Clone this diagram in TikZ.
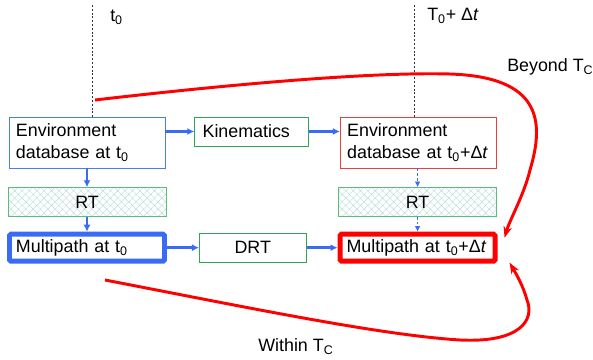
\documentclass[tikz,border=0pt]{standalone}
\usepackage{fontspec}
\setmainfont{Liberation Sans}
\usetikzlibrary{arrows.meta}
\usetikzlibrary{calc}
\usetikzlibrary{positioning}
\usetikzlibrary{patterns.meta}

\definecolor{envblue}{HTML}{4A7CF5}
\definecolor{flowblue}{HTML}{3A6BF5}
\definecolor{kingreen}{HTML}{2FA55A}
\definecolor{rtgreen}{HTML}{5DBB7F}
\definecolor{hatchcol}{HTML}{B4DDD8}
\definecolor{envred}{HTML}{E8403A}
\definecolor{loopred}{HTML}{FF0000}

\tikzset{
	box/.style={draw, rectangle, inner ysep=0pt},
	envbox/.style={box, text width=3.55cm, inner xsep=0.175cm, align=left, minimum height=1.275cm},
	procbox/.style={box, draw=kingreen, minimum height=0.725cm},
	rtbox/.style={box, draw=rtgreen, minimum width=3.95cm, minimum height=0.725cm,
		pattern={Hatch[angle=45,distance=3.7pt,line width=0.3pt]}, pattern color=hatchcol},
	mpbox/.style={box, line width=3.5pt, rounded corners=1pt, text width=3.55cm, inner xsep=0.1625cm, align=left, minimum height=0.675cm},
	flow/.style={draw=flowblue, line width=1.7pt, -{Latex[length=5pt,width=5pt]}},
	thinflow/.style={draw=flowblue, line width=0.6pt, dash pattern=on 2pt off 1.5pt, -{Latex[length=4pt,width=4pt]}},
	timeline/.style={draw=black!80, line width=0.5pt, dash pattern=on 1.5pt off 1.2pt},
	redloop/.style={draw=loopred, line width=2.1pt, -{Stealth[length=8pt,width=6pt]}},
	lbl/.style={anchor=west, inner sep=0pt}
}

\begin{document}
\begin{tikzpicture}[x=0.025cm, y=0.025cm, font=\fontsize{12.7}{15.6}\selectfont]
		\useasboundingbox (0,0) rectangle (593,-360);
		% boxes
		\node[envbox, draw=envblue] (envA) at (87,-142.5) {Environment\\database at t\textsubscript{0}};
		\node[procbox, text width=2.45cm, inner xsep=0.2cm, align=left, right=0.725cm of envA.north east, anchor=north west] (kin) {Kinematics};
		\node[envbox, draw=envred, right=0.775cm of kin.north east, anchor=north west] (envB) {Environment\\database at t\textsubscript{0}+Δ\textit{t}};
		\node[rtbox, below=0.475cm of envA] (rtA) {RT};
		\node[mpbox, draw=flowblue, below=0.375cm of rtA] (mpA) {Multipath at t\textsubscript{0}};
		\node[procbox, minimum width=2.675cm, right=0.8cm of mpA] (drt) {DRT};
		\node[mpbox, draw=loopred, right=0.775cm of drt] (mpB) {Multipath at t\textsubscript{0}+Δ\textit{t}};
		\node[rtbox, above=0.375cm of mpB] (rtB) {RT};
		% time marks
		\coordinate (tA) at (92,-5);
		\coordinate (tB) at (414,-5);
		\draw[timeline] (tA) -- (tA |- envA.north);
		\draw[timeline] (tB) -- (tB |- envB.north);
		\node[lbl] (lblA) at (110,-17) {t\textsubscript{0}};
		\node[lbl] (lblB) at (427,-16) {T\textsubscript{0}+ Δ\textit{t}};
		\node[lbl] (beyond) at (507,-67) {Beyond T\textsubscript{C}};
		\node[lbl] (within) at (258,-347) {Within T\textsubscript{C}};
		% flow
		\draw[flow] (kin.west -| envA.east) -- (kin.west);
		\draw[flow] (kin.east) -- (kin.east -| envB.west);
		\draw[flow] (envA) -- (rtA);
		\draw[flow] (rtA) -- (mpA);
		\draw[flow] (mpA) -- (drt);
		\draw[flow] (drt) -- (mpB);
		\draw[thinflow] (rtB.north |- envB.south) -- (rtB.north);
		\draw[thinflow] (rtB.south) -- (rtB.south |- mpB.north);
		% red loops
		\coordinate (beyondstart) at (95,-100);
		\coordinate (beyondend) at ($(mpB.north east)+(7,-6)$);
		\coordinate (withinstart) at (105,-280);
		\coordinate (withinend) at ($(mpB.south east)+(12,1)$);
		\draw[redloop] (beyondstart) .. controls (250,-82) and (380,-72) .. (450,-74)
			.. controls (540,-77) and (545,-120) .. (530,-170)
			.. controls (524,-195) and (510,-219) .. (beyondend);
		\draw[redloop] (withinstart) .. controls (250,-308) and (380,-335) .. (460,-340)
			.. controls (520,-343) and (535,-320) .. (527,-300)
			.. controls (523,-285) and (515,-272) .. (withinend);
	\end{tikzpicture}
\end{document}
